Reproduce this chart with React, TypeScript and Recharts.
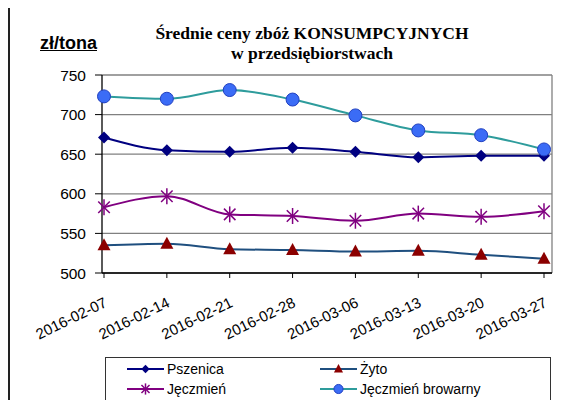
import React from 'react';
import { LineChart, Line, XAxis, YAxis, CartesianGrid } from 'recharts';

const dates = ['2016-02-07', '2016-02-14', '2016-02-21', '2016-02-28', '2016-03-06', '2016-03-13', '2016-03-20', '2016-03-27'];
const pszenica = [671, 655, 653, 658, 653, 646, 648, 648];
const zyto = [535, 537, 530, 529, 527, 528, 523, 518];
const jeczmien = [583, 597, 574, 572, 566, 575, 571, 578];
const browarny = [723, 720, 731, 719, 699, 680, 674, 656];
const yTicks = [500, 550, 600, 650, 700, 750];

const seriesNames = ['Pszenica', 'Żyto', 'Jęczmień', 'Jęczmień browarny'];
const seriesKeys = ['pszenica', 'zyto', 'jeczmien', 'browarny'];
const seriesColors = ['#000080', '#1f4f7f', '#800080', '#2e9c9c'];
const markerKinds = ['diamond', 'triangle', 'star', 'circle'];

const data = dates.map((date, i) => ({
  date,
  pszenica: pszenica[i],
  zyto: zyto[i],
  jeczmien: jeczmien[i],
  browarny: browarny[i],
}));

const sans = '"Liberation Sans", Arial, sans-serif';
const serif = '"Liberation Serif", "Times New Roman", serif';

// marker shapes, roughly like the old Excel ones
const Marker = ({ kind, cx, cy, s = 1 }: any) => {
  if (cx == null || cy == null) return null;
  if (kind === 'diamond') {
    const r = 6 * s;
    return <polygon points={`${cx},${cy - r} ${cx + r},${cy} ${cx},${cy + r} ${cx - r},${cy}`} fill="#000080" />;
  }
  if (kind === 'triangle') {
    const w = 6.5 * s;
    return <polygon points={`${cx},${cy - 7 * s} ${cx + w},${cy + 5 * s} ${cx - w},${cy + 5 * s}`} fill="#8b0000" />;
  }
  if (kind === 'star') {
    const r = 8 * s;
    const d = r * 0.72;
    return (
      <g stroke="#800080" strokeWidth={1.5}>
        <line x1={cx} y1={cy - r} x2={cx} y2={cy + r} />
        <line x1={cx - d} y1={cy - d} x2={cx + d} y2={cy + d} />
        <line x1={cx - d} y1={cy + d} x2={cx + d} y2={cy - d} />
      </g>
    );
  }
  return <circle cx={cx} cy={cy} r={6.5 * s} fill="#3b6cf6" stroke="#2140c0" strokeWidth={1} />;
};

const dotOf = (kind: string) => (props: any) => <Marker key={props.index} kind={kind} cx={props.cx} cy={props.cy} />;

const DateTick = ({ x, y, payload }: any) => {
  const ax = x + 4;
  const ay = y + 26;
  return (
    <text x={ax} y={ay} transform={`rotate(-26 ${ax} ${ay})`} textAnchor="end" fontSize={15} fill="#000" fontFamily={sans}>
      {payload.value}
    </text>
  );
};

// legend in the original order (2 x 2), box runs off the bottom of the picture
const LegendBox = () => (
  <div style={{ position: 'absolute', left: 105, top: 357, width: 446, height: 60, border: '1px solid #333', boxSizing: 'border-box', background: '#fff' }}>
    {seriesNames.map((name, i) => {
      const col = i % 2;
      const row = Math.floor(i / 2);
      return (
        <div key={name} style={{ position: 'absolute', left: col === 0 ? 21 : 214, top: row === 0 ? 2 : 22, display: 'flex', alignItems: 'center', height: 18 }}>
          <svg width={37} height={18}>
            <line x1={0} y1={9} x2={37} y2={9} stroke={seriesColors[i]} strokeWidth={2} />
            <Marker kind={markerKinds[i]} cx={18.5} cy={9} s={0.7} />
          </svg>
          <span style={{ fontFamily: sans, fontSize: 14, lineHeight: '18px', color: '#000', marginLeft: 3 }}>{name}</span>
        </div>
      );
    })}
  </div>
);

export default function App() {
  return (
    <div style={{ position: 'relative', margin: '-8px 0 0 -8px', width: 578, height: 400, overflow: 'hidden', background: '#fff' }}>
      <div style={{ position: 'absolute', left: 8, top: 6, width: 620, height: 440, border: '2px solid #222' }} />
      <div style={{ position: 'absolute', left: 0, top: 0 }}>
        <LineChart width={578} height={400} data={data} margin={{ top: 75, right: 26, left: 0, bottom: 0 }}>
          <CartesianGrid
            stroke="#808080"
            strokeWidth={1.3}
            verticalCoordinatesGenerator={({ offset }: any) => [offset.left + offset.width]}
          />
          <XAxis
            dataKey="date"
            interval={0}
            height={127}
            padding={{ left: 2, right: 8 }}
            tick={<DateTick />}
            tickSize={5}
            tickMargin={2}
            axisLine={{ stroke: '#000', strokeWidth: 1.3 }}
            tickLine={{ stroke: '#000' }}
          />
          <YAxis
            width={102}
            domain={[500, 750]}
            ticks={yTicks}
            tickSize={7}
            tickMargin={9}
            tick={{ fontSize: 15.5, fill: '#000', fontFamily: sans }}
            axisLine={{ stroke: '#000', strokeWidth: 1.3 }}
            tickLine={{ stroke: '#000' }}
          />
          {seriesKeys.map((key, i) => (
            <Line
              key={key}
              name={seriesNames[i]}
              dataKey={key}
              type="monotone"
              stroke={seriesColors[i]}
              strokeWidth={2}
              dot={dotOf(markerKinds[i])}
              activeDot={false}
              isAnimationActive={false}
            />
          ))}
        </LineChart>
      </div>
      <LegendBox />
      <div style={{ position: 'absolute', left: 112, width: 400, top: 23, textAlign: 'center', fontFamily: serif, fontWeight: 'bold', fontSize: 17.5, lineHeight: '20px', color: '#000' }}>
        Średnie ceny zbóż KONSUMPCYJNYCH
        <br />
        w przedsiębiorstwach
      </div>
      <div style={{ position: 'absolute', left: 40, top: 33, fontFamily: sans, fontWeight: 'bold', fontSize: 18, textDecoration: 'underline', color: '#000' }}>
        zł/tona
      </div>
    </div>
  );
}
